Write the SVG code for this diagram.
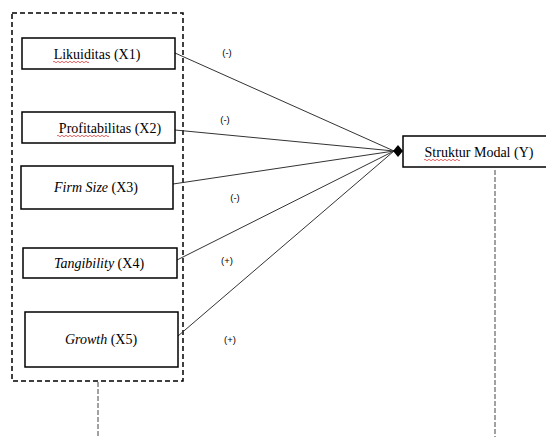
<svg xmlns="http://www.w3.org/2000/svg" width="546" height="437" viewBox="0 0 546 437">
<defs>
<style>
.box{fill:#fff;stroke:#000;stroke-width:1.5}
.t{font-family:"Liberation Serif","Times New Roman",serif;font-size:14px;fill:#000;text-anchor:middle}
.lbl{font-family:"Liberation Sans",Arial,sans-serif;font-size:9.5px;fill:#000;text-anchor:middle}
.ln{stroke:#333;stroke-width:1;fill:none}
.dash{stroke:#000;stroke-width:1.5;fill:none;stroke-dasharray:5 3}
.thin{stroke:#444;stroke-width:1;fill:none;stroke-dasharray:5 2}
.sq{stroke:#d22;stroke-width:0.7;fill:none}
</style>
</defs>
<rect width="546" height="437" fill="#fff"/>
<g id="group-frame">
<rect x="12" y="13" width="171" height="368" class="dash"/>
<line x1="98" y1="382" x2="98" y2="437" class="thin"/>
<line x1="495" y1="170" x2="495" y2="437" class="thin"/>
</g>
<g id="connectors">
<line x1="175" y1="53" x2="394" y2="151" class="ln"/>
<line x1="175" y1="130" x2="394" y2="151" class="ln"/>
<line x1="173" y1="184" x2="394" y2="151" class="ln"/>
<line x1="177" y1="260" x2="394" y2="151" class="ln"/>
<line x1="178" y1="336" x2="394" y2="151" class="ln"/>
<polygon points="393,151 398,145 403,151 398,157" fill="#000"/>
<text x="227" y="56" class="lbl">(-)</text>
<text x="225" y="123" class="lbl">(-)</text>
<text x="235" y="201" class="lbl">(-)</text>
<text x="227" y="264" class="lbl">(+)</text>
<text x="230" y="343" class="lbl">(+)</text>
</g>
<g id="x1">
<rect x="22" y="38" width="153" height="31" class="box"/>
<text x="97" y="59" class="t">Likuiditas (X1)</text>
<path d="M53,62 q1,-1.5 2,0 t2,0 t2,0 t2,0 t2,0 t2,0 t2,0 t2,0 t2,0 t2,0 t2,0 t2,0 t2,0 t2,0 t2,0 t2,0 t2,0 t2,0" class="sq"/>
</g>
<g id="x2">
<rect x="22" y="112" width="153" height="31" class="box"/>
<text x="110" y="133" class="t">Profitabilitas (X2)</text>
<path d="M57,136 q1,-1.5 2,0 t2,0 t2,0 t2,0 t2,0 t2,0 t2,0 t2,0 t2,0 t2,0 t2,0 t2,0 t2,0 t2,0 t2,0 t2,0 t2,0 t2,0 t2,0 t2,0 t2,0 t2,0 t2,0 t2,0 t2,0 t2,0" class="sq"/>
</g>
<g id="x3">
<rect x="21" y="166" width="152" height="43" class="box"/>
<text x="96" y="192" class="t"><tspan font-style="italic">Firm Size</tspan> (X3)</text>
</g>
<g id="x4">
<rect x="23" y="248" width="154" height="30" class="box"/>
<text x="99" y="268" class="t"><tspan font-style="italic">Tangibility</tspan> (X4)</text>
</g>
<g id="x5">
<rect x="25" y="312" width="153" height="55" class="box"/>
<text x="101" y="344" class="t"><tspan font-style="italic">Growth</tspan> (X5)</text>
</g>
<g id="y">
<rect x="403" y="136" width="160" height="31" class="box"/>
<text x="479" y="157" class="t">Struktur Modal (Y)</text>
<path d="M424,160 q1,-1.5 2,0 t2,0 t2,0 t2,0 t2,0 t2,0 t2,0 t2,0 t2,0 t2,0 t2,0 t2,0 t2,0 t2,0 t2,0 t2,0 t2,0 t2,0" class="sq"/>
</g>
</svg>
